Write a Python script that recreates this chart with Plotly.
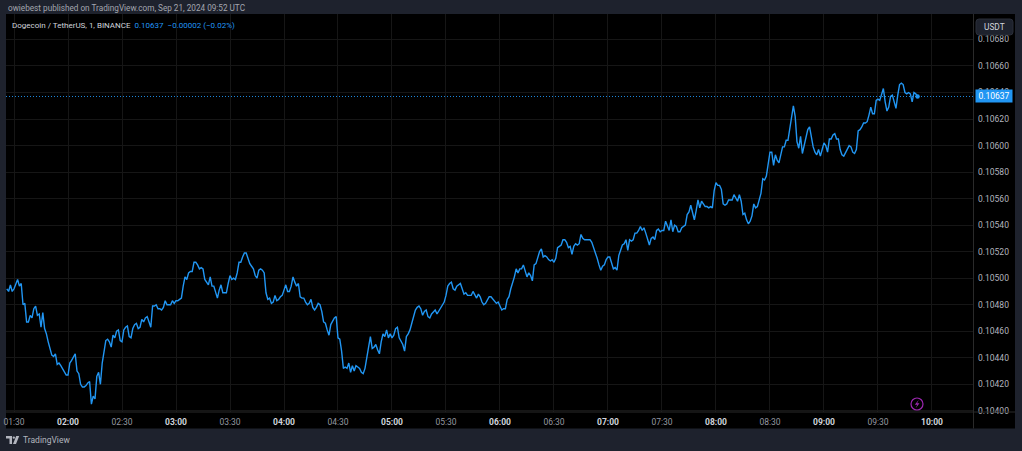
import pandas as pd
import plotly.graph_objects as go

# 1-minute DOGE/USDT closes
first_bar = "2024-09-21 01:26"
last_bar = "2024-09-21 09:52"
prices = [
    0.10492, 0.10490, 0.10495, 0.10490, 0.10492, 0.10496, 0.10499, 0.10494, 0.10496, 0.10480,
    0.10481, 0.10467, 0.10467, 0.10472, 0.10470, 0.10477, 0.10479, 0.10472, 0.10473, 0.10463,
    0.10474, 0.10462, 0.10458, 0.10452, 0.10447, 0.10442, 0.10441, 0.10443, 0.10435, 0.10436,
    0.10434, 0.10432, 0.10429, 0.10427, 0.10427, 0.10436, 0.10438, 0.10441, 0.10443, 0.10430,
    0.10428, 0.10420, 0.10418, 0.10418, 0.10419, 0.10421, 0.10422, 0.10405, 0.10411, 0.10409,
    0.10426, 0.10429, 0.10420, 0.10436, 0.10445, 0.10453, 0.10454, 0.10452, 0.10448, 0.10457,
    0.10455, 0.10460, 0.10461, 0.10453, 0.10452, 0.10461, 0.10463, 0.10464, 0.10456, 0.10455,
    0.10462, 0.10465, 0.10466, 0.10462, 0.10463, 0.10469, 0.10467, 0.10470, 0.10471, 0.10467,
    0.10463, 0.10479, 0.10479, 0.10480, 0.10477, 0.10477, 0.10476, 0.10478, 0.10483, 0.10480,
    0.10480, 0.10480, 0.10483, 0.10481, 0.10483, 0.10483, 0.10484, 0.10485, 0.10494, 0.10501,
    0.10499, 0.10504, 0.10505, 0.10505, 0.10512, 0.10512, 0.10510, 0.10507, 0.10508, 0.10507,
    0.10499, 0.10497, 0.10495, 0.10501, 0.10494, 0.10494, 0.10489, 0.10485, 0.10491, 0.10495,
    0.10489, 0.10489, 0.10489, 0.10496, 0.10502, 0.10499, 0.10500, 0.10499, 0.10504, 0.10512,
    0.10512, 0.10516, 0.10519, 0.10519, 0.10515, 0.10511, 0.10509, 0.10507, 0.10502, 0.10500,
    0.10506, 0.10507, 0.10506, 0.10504, 0.10489, 0.10484, 0.10485, 0.10481, 0.10482, 0.10487,
    0.10483, 0.10484, 0.10486, 0.10487, 0.10491, 0.10495, 0.10490, 0.10490, 0.10494, 0.10501,
    0.10497, 0.10494, 0.10496, 0.10486, 0.10485, 0.10485, 0.10482, 0.10480, 0.10481, 0.10484,
    0.10478, 0.10476, 0.10478, 0.10481, 0.10480, 0.10475, 0.10467, 0.10466, 0.10461, 0.10457,
    0.10465, 0.10468, 0.10470, 0.10471, 0.10455, 0.10454, 0.10445, 0.10432, 0.10433, 0.10432,
    0.10436, 0.10429, 0.10434, 0.10430, 0.10434, 0.10433, 0.10432, 0.10429, 0.10428, 0.10432,
    0.10442, 0.10448, 0.10456, 0.10447, 0.10448, 0.10450, 0.10446, 0.10443, 0.10452, 0.10458,
    0.10456, 0.10461, 0.10455, 0.10458, 0.10455, 0.10457, 0.10462, 0.10463, 0.10455, 0.10452,
    0.10450, 0.10445, 0.10456, 0.10458, 0.10461, 0.10466, 0.10471, 0.10476, 0.10478, 0.10479,
    0.10477, 0.10472, 0.10475, 0.10476, 0.10471, 0.10470, 0.10473, 0.10475, 0.10476, 0.10473,
    0.10475, 0.10477, 0.10479, 0.10482, 0.10487, 0.10494, 0.10496, 0.10497, 0.10492, 0.10491,
    0.10494, 0.10495, 0.10496, 0.10492, 0.10488, 0.10489, 0.10487, 0.10487, 0.10487, 0.10490,
    0.10487, 0.10485, 0.10488, 0.10486, 0.10482, 0.10480, 0.10481, 0.10484, 0.10486, 0.10486,
    0.10484, 0.10482, 0.10481, 0.10482, 0.10479, 0.10476, 0.10477, 0.10477, 0.10484, 0.10486,
    0.10492, 0.10496, 0.10501, 0.10507, 0.10504, 0.10507, 0.10507, 0.10510, 0.10506, 0.10501,
    0.10504, 0.10502, 0.10498, 0.10510, 0.10511, 0.10515, 0.10520, 0.10522, 0.10516, 0.10517,
    0.10516, 0.10514, 0.10513, 0.10514, 0.10512, 0.10515, 0.10523, 0.10524, 0.10525, 0.10529,
    0.10529, 0.10527, 0.10523, 0.10524, 0.10518, 0.10524, 0.10526, 0.10525, 0.10526, 0.10533,
    0.10530, 0.10529, 0.10529, 0.10529, 0.10529, 0.10527, 0.10523, 0.10520, 0.10515, 0.10510,
    0.10506, 0.10509, 0.10510, 0.10514, 0.10516, 0.10516, 0.10512, 0.10507, 0.10508, 0.10506,
    0.10517, 0.10522, 0.10525, 0.10526, 0.10529, 0.10521, 0.10529, 0.10528, 0.10529, 0.10534,
    0.10534, 0.10536, 0.10539, 0.10536, 0.10538, 0.10534, 0.10530, 0.10525, 0.10530, 0.10531,
    0.10529, 0.10536, 0.10537, 0.10535, 0.10536, 0.10536, 0.10543, 0.10539, 0.10536, 0.10544,
    0.10535, 0.10540, 0.10539, 0.10535, 0.10535, 0.10538, 0.10539, 0.10540, 0.10548, 0.10550,
    0.10555, 0.10549, 0.10544, 0.10551, 0.10559, 0.10553, 0.10558, 0.10556, 0.10554, 0.10554,
    0.10553, 0.10554, 0.10553, 0.10566, 0.10572, 0.10570, 0.10570, 0.10567, 0.10556, 0.10555,
    0.10556, 0.10559, 0.10559, 0.10559, 0.10563, 0.10561, 0.10558, 0.10563, 0.10558, 0.10548,
    0.10549, 0.10544, 0.10541, 0.10543, 0.10547, 0.10556, 0.10553, 0.10554, 0.10559, 0.10564,
    0.10575, 0.10574, 0.10577, 0.10587, 0.10595, 0.10595, 0.10585, 0.10593, 0.10589, 0.10587,
    0.10594, 0.10599, 0.10599, 0.10604, 0.10604, 0.10613, 0.10622, 0.10630, 0.10622, 0.10603,
    0.10598, 0.10607, 0.10594, 0.10600, 0.10607, 0.10612, 0.10614, 0.10605, 0.10599, 0.10595,
    0.10593, 0.10597, 0.10592, 0.10597, 0.10602, 0.10600, 0.10595, 0.10605, 0.10605, 0.10608,
    0.10609, 0.10605, 0.10605, 0.10597, 0.10593, 0.10592, 0.10595, 0.10597, 0.10600, 0.10599,
    0.10595, 0.10594, 0.10597, 0.10611, 0.10612, 0.10614, 0.10617, 0.10617, 0.10618, 0.10623,
    0.10629, 0.10624, 0.10624, 0.10634, 0.10635, 0.10634, 0.10638, 0.10643, 0.10633, 0.10626,
    0.10629, 0.10637, 0.10638, 0.10633, 0.10628, 0.10638, 0.10646, 0.10647, 0.10646, 0.10640,
    0.10639, 0.10640, 0.10639, 0.10633, 0.10640, 0.10639, 0.10637,
]

time_ticks = ["01:30", "02:00", "02:30", "03:00", "03:30", "04:00", "04:30", "05:00", "05:30",
              "06:00", "06:30", "07:00", "07:30", "08:00", "08:30", "09:00", "09:30", "10:00"]
price_ticks = [0.10400, 0.10420, 0.10440, 0.10460, 0.10480, 0.10500, 0.10520, 0.10540,
               0.10560, 0.10580, 0.10600, 0.10620, 0.10640, 0.10660, 0.10680]
x_view = ["2024-09-21 01:25:33", "2024-09-21 10:22:48"]
y_view = [0.103991, 0.106992]

publisher = "owiebest published on TradingView.com, Sep 21, 2024 09:52 UTC"
symbol = "Dogecoin / TetherUS, 1, BINANCE"
currency = "USDT"
brand = "TradingView"

times = pd.date_range(first_bar, last_bar, freq="1min")
assert len(times) == len(prices)

BG = "#1e222d"
PANEL = "#000000"
BLUE = "#2196f3"
GRID = "#161616"
SEP = "#2a2a2a"
LOGO = "#b2b5be"
FONT = "Roboto"

# plot area in pixels: x 6..973, y 14..412
def px(x):
    return (x - 6) / 967

def py(y):
    return (412 - y) / 398

def poly(points):
    return "M " + " L ".join("%f,%f" % (px(a), py(b)) for a, b in points) + " Z"

def rounded_box(x0, y0, x1, y1, r):
    return ("M %f,%f L %f,%f Q %f,%f %f,%f L %f,%f Q %f,%f %f,%f "
            "L %f,%f Q %f,%f %f,%f L %f,%f Q %f,%f %f,%f Z") % (
        px(x0 + r), py(y0), px(x1 - r), py(y0), px(x1), py(y0), px(x1), py(y0 + r),
        px(x1), py(y1 - r), px(x1), py(y1), px(x1 - r), py(y1),
        px(x0 + r), py(y1), px(x0), py(y1), px(x0), py(y1 - r),
        px(x0), py(y0 + r), px(x0), py(y0), px(x0 + r), py(y0))

last = prices[-1]
chg = last - prices[-2]
pct = chg / prices[-2] * 100

ticktext = []
for t in time_ticks:
    if t.endswith(":00"):
        ticktext.append("<b>%s</b>" % t)
    else:
        ticktext.append("<span style='color:#9598a1'>%s</span>" % t)

fig = go.Figure()
fig.add_trace(go.Scatter(x=times, y=prices, mode="lines",
                         line=dict(color=BLUE, width=1.4), hoverinfo="skip"))
fig.add_trace(go.Scatter(x=[times[-1]], y=[last], mode="markers",
                         marker=dict(color=BLUE, size=4.5), hoverinfo="skip"))

shapes = [
    # black chart panel incl. axis strips
    dict(type="rect", xref="paper", yref="paper", x0=px(6), x1=px(1015), y0=py(428.5), y1=py(14),
         fillcolor=PANEL, line_width=0, layer="below"),
    # price scale separator
    dict(type="line", xref="paper", yref="paper", x0=px(973.5), x1=px(973.5), y0=py(428.5), y1=py(14),
         line=dict(color=SEP, width=1)),
    # time scale separator
    dict(type="line", xref="paper", yref="paper", x0=px(6), x1=px(1015), y0=py(412), y1=py(412),
         line=dict(color=SEP, width=1)),
    # last price line
    dict(type="line", xref="paper", yref="y", x0=0, x1=1, y0=last, y1=last,
         line=dict(color=BLUE, width=0.9, dash="1px,2px")),
    # currency badge
    dict(type="path", xref="paper", yref="paper", path=rounded_box(976, 19, 1013, 35, 3),
         fillcolor="#1e222d", line=dict(color="#2a2e39", width=1)),
    # lightning badge
    dict(type="circle", xref="paper", yref="paper", x0=px(911), x1=px(923), y0=py(410), y1=py(398),
         line=dict(color="#9c27b0", width=1.2)),
    dict(type="path", xref="paper", yref="paper",
         path=poly([(918.8, 399.8), (914.8, 404.8), (917.2, 404.8), (915.6, 408.3), (919.5, 403.2), (917.1, 403.2)]),
         fillcolor="#9c27b0", line_width=0),
    # TradingView logo mark
    dict(type="path", xref="paper", yref="paper",
         path=poly([(6, 436), (12, 436), (12, 444), (9.5, 444), (9.5, 438.6), (6, 438.6)]),
         fillcolor=LOGO, line_width=0),
    dict(type="circle", xref="paper", yref="paper", x0=px(12.6), x1=px(15), y0=py(438.8), y1=py(436.4),
         fillcolor=LOGO, line_width=0),
    dict(type="path", xref="paper", yref="paper",
         path=poly([(16.2, 436), (19.2, 436), (16, 444), (13, 444)]),
         fillcolor=LOGO, line_width=0),
]

annotations = [
    dict(xref="paper", yref="paper", x=px(6), y=py(7.5), xanchor="left", yanchor="middle",
         text=publisher, showarrow=False, font=dict(family=FONT, size=8.2, color="#a3a6af")),
    dict(xref="paper", yref="paper", x=px(10), y=py(25.5), xanchor="left", yanchor="middle",
         text="%s  <span style='color:%s'>%.5f  %s (%s%%)</span>" % (
             symbol, BLUE, last, ("%.5f" % chg).replace("-", "−"), ("%.2f" % pct).replace("-", "−")),
         showarrow=False, font=dict(family=FONT, size=8, color="#d1d4dc")),
    dict(xref="paper", yref="paper", x=px(994.5), y=py(27), xanchor="center", yanchor="middle",
         text=currency, showarrow=False, font=dict(family=FONT, size=8.3, color="#d1d4dc")),
    dict(xref="paper", yref="y", x=px(974.5), y=last, xanchor="left", yanchor="middle",
         text="%.5f" % last, showarrow=False, bgcolor=BLUE, borderpad=1, width=34,
         font=dict(family=FONT, size=8.5, color="#ffffff")),
    dict(xref="paper", yref="paper", x=px(20.5), y=py(440), xanchor="left", yanchor="middle",
         text=brand, showarrow=False, font=dict(family=FONT, size=8.5, color=LOGO)),
]

fig.update_layout(
    width=1022, height=451,
    margin=dict(l=6, r=49, t=14, b=39),
    paper_bgcolor=BG, plot_bgcolor=PANEL,
    showlegend=False,
    shapes=shapes, annotations=annotations,
    font=dict(family=FONT),
)
fig.update_xaxes(
    type="date", range=x_view, automargin=False,
    tickvals=["2024-09-21 " + t for t in time_ticks], ticktext=ticktext,
    showgrid=True, gridcolor=GRID, gridwidth=1, zeroline=False, showline=False,
    ticks="", ticklabelstandoff=3,
    tickfont=dict(family=FONT, size=8.5, color="#d1d4dc"),
)
fig.update_yaxes(
    side="right", range=y_view, tickvals=price_ticks, tickformat=".5f", automargin=False,
    showgrid=True, gridcolor=GRID, gridwidth=1, zeroline=False, showline=False,
    ticks="", ticklabelstandoff=4,
    tickfont=dict(family=FONT, size=8.5, color="#b2b5be"),
)

# page body has an 8px default margin; drop it so the figure fills the window
fig.write_html("out.html", config={"displayModeBar": False},
               post_script="document.body.style.margin='0';document.body.style.background='%s';" % BG)
